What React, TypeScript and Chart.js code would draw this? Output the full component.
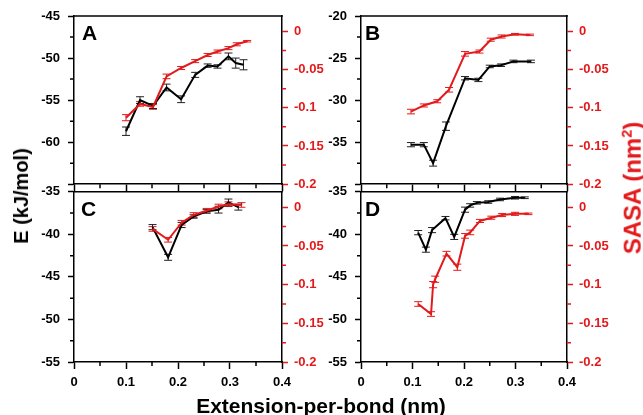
import React, { useEffect, useRef } from 'react';
import { Chart, registerables } from 'chart.js';

Chart.register(...registerables);

const FONT = '"Liberation Sans", Arial, Helvetica, sans-serif';
const RED = '#e31a1c';
const BLACK = '#000000';

// ---- tick values ----
const X_TICKS = [0, 0.1, 0.2, 0.3, 0.4];
const X_MINOR = [0.05, 0.15, 0.25, 0.35];
const SASA_TICKS = [-0.2, -0.15, -0.1, -0.05, 0];
const SASA_MINOR = [-0.175, -0.125, -0.075, -0.025];
const A_E_TICKS = [-65, -60, -55, -50, -45];
const B_E_TICKS = [-40, -35, -30, -25, -20];
const CD_E_TICKS = [-55, -50, -45, -40, -35];

// ---- Panel A ----
const A_X = [0.1, 0.127, 0.152, 0.178, 0.206, 0.233, 0.257, 0.276, 0.297, 0.311, 0.326];
const A_E = [-58.7, -55.0, -55.7, -53.5, -54.9, -52.0, -50.9, -51.0, -49.8, -50.6, -50.8];
const A_E_ERR = [0.5, 0.4, 0.3, 0.4, 0.4, 0.3, 0.2, 0.2, 0.4, 0.6, 0.6];
const A_SX = [0.1, 0.127, 0.152, 0.178, 0.206, 0.233, 0.257, 0.276, 0.297, 0.313, 0.333];
const A_S = [-0.113, -0.095, -0.099, -0.059, -0.048, -0.039, -0.031, -0.0265, -0.022, -0.017, -0.013];
const A_S_ERR = [0.004, 0.003, 0.003, 0.003, 0.002, 0.002, 0.002, 0.002, 0.002, 0.002, 0.001];

// ---- Panel B ----
const B_X = [0.097, 0.122, 0.14, 0.165, 0.202, 0.228, 0.25, 0.272, 0.296, 0.33];
const B_E = [-35.3, -35.3, -37.5, -33.1, -27.4, -27.6, -26.0, -25.85, -25.4, -25.4];
const B_E_ERR = [0.25, 0.25, 0.35, 0.5, 0.2, 0.2, 0.15, 0.15, 0.15, 0.15];
const B_SX = [0.097, 0.122, 0.148, 0.171, 0.202, 0.23, 0.252, 0.273, 0.299, 0.328];
const B_S = [-0.105, -0.097, -0.0915, -0.0765, -0.0295, -0.0265, -0.011, -0.0068, -0.0038, -0.0047];
const B_S_ERR = [0.003, 0.002, 0.002, 0.003, 0.003, 0.002, 0.002, 0.002, 0.001, 0.001];

// ---- Panel C ----
const C_X = [0.151, 0.181, 0.207, 0.23, 0.255, 0.278, 0.297, 0.316];
const C_E = [-39.15, -42.7, -38.9, -37.9, -37.3, -37.1, -36.25, -36.8];
const C_E_ERR = [0.3, 0.35, 0.3, 0.2, 0.2, 0.4, 0.4, 0.35];
const C_SX = [0.151, 0.181, 0.207, 0.23, 0.255, 0.278, 0.297, 0.322];
const C_S = [-0.028, -0.042, -0.02, -0.01, -0.0045, 0.001, 0.004, 0.003];
const C_S_ERR = [0.003, 0.003, 0.003, 0.003, 0.003, 0.003, 0.003, 0.003];

// ---- Panel D ----
const D_X = [0.111, 0.126, 0.138, 0.164, 0.181, 0.202, 0.212, 0.225, 0.247, 0.27, 0.299, 0.318];
const D_E = [-39.8, -41.8, -39.5, -38.1, -40.3, -37.1, -36.6, -36.3, -36.2, -35.9, -35.7, -35.7];
const D_E_ERR = [0.25, 0.3, 0.3, 0.2, 0.3, 0.3, 0.2, 0.15, 0.15, 0.15, 0.15, 0.1];
const D_SX = [0.111, 0.136, 0.14, 0.144, 0.166, 0.187, 0.202, 0.212, 0.231, 0.253, 0.274, 0.299, 0.325];
const D_S = [-0.125, -0.138, -0.1, -0.093, -0.06, -0.0775, -0.037, -0.0325, -0.0177, -0.0135, -0.01, -0.0085, -0.0085];
const D_S_ERR = [0.003, 0.003, 0.004, 0.004, 0.003, 0.004, 0.003, 0.003, 0.002, 0.002, 0.002, 0.002, 0.001];

type Box = { left: number; top: number; width: number; height: number; padTop: number; leftW: number; rightW: number; bottomH: number };
type Panel = {
  letter: string; letterDx: number;
  eX: number[]; e: number[]; eErr: number[];
  sX: number[]; s: number[]; sErr: number[];
  eTicks: number[]; hideE: number | null; showX: boolean; box: Box;
};

const PANELS: Panel[] = [
  { letter: 'A', letterDx: 8, eX: A_X, e: A_E, eErr: A_E_ERR, sX: A_SX, s: A_S, sErr: A_S_ERR, eTicks: A_E_TICKS, hideE: -65, showX: false,
    box: { left: 0, top: 0, width: 330, height: 200, padTop: 16, leftW: 74, rightW: 48, bottomH: 12 } },
  { letter: 'B', letterDx: 4, eX: B_X, e: B_E, eErr: B_E_ERR, sX: B_SX, s: B_S, sErr: B_S_ERR, eTicks: B_E_TICKS, hideE: -40, showX: false,
    box: { left: 300, top: 0, width: 343, height: 200, padTop: 16, leftW: 61, rightW: 76, bottomH: 12 } },
  { letter: 'C', letterDx: 7, eX: C_X, e: C_E, eErr: C_E_ERR, sX: C_SX, s: C_S, sErr: C_S_ERR, eTicks: CD_E_TICKS, hideE: null, showX: true,
    box: { left: 0, top: 176, width: 330, height: 239, padTop: 12, leftW: 74, rightW: 48, bottomH: 53 } },
  { letter: 'D', letterDx: 4, eX: D_X, e: D_E, eErr: D_E_ERR, sX: D_SX, s: D_S, sErr: D_S_ERR, eTicks: CD_E_TICKS, hideE: null, showX: true,
    box: { left: 300, top: 176, width: 343, height: 239, padTop: 12, leftW: 61, rightW: 76, bottomH: 53 } },
];

const fmt = (v: number) => String(Number(v.toFixed(3)));

const decorPlugin = {
  id: 'decor',
  beforeDatasetsDraw(chart: any) {
    const { ctx, scales } = chart;
    ctx.save();
    chart.data.datasets.forEach((ds: any) => {
      const ys = scales[ds.yAxisID];
      const errs: number[] = ds.errors || [];
      ctx.strokeStyle = ds.errColor;
      ctx.lineWidth = 1;
      ds.data.forEach((p: any, j: number) => {
        const err = errs[j] || 0;
        const px = scales.x.getPixelForValue(p.x);
        const y1 = ys.getPixelForValue(p.y + err);
        const y2 = ys.getPixelForValue(p.y - err);
        ctx.beginPath();
        ctx.moveTo(px, y1); ctx.lineTo(px, y2);
        ctx.moveTo(px - 4, y1); ctx.lineTo(px + 4, y1);
        ctx.moveTo(px - 4, y2); ctx.lineTo(px + 4, y2);
        ctx.stroke();
      });
    });
    ctx.restore();
  },
  afterDraw(chart: any, _args: any, opts: any) {
    const { ctx, chartArea: ca, scales } = chart;
    ctx.save();
    ctx.lineWidth = 1.5;
    // top frame
    ctx.strokeStyle = BLACK;
    ctx.beginPath();
    ctx.moveTo(ca.left - 0.75, ca.top); ctx.lineTo(ca.right + 0.75, ca.top);
    ctx.stroke();
    // minor ticks
    ctx.beginPath();
    X_MINOR.forEach((v) => {
      const px = scales.x.getPixelForValue(v);
      ctx.moveTo(px, ca.bottom); ctx.lineTo(px, ca.bottom + 4);
    });
    (opts.eMinor as number[]).forEach((v) => {
      const py = scales.y.getPixelForValue(v);
      ctx.moveTo(ca.left - 4, py); ctx.lineTo(ca.left, py);
    });
    ctx.stroke();
    ctx.strokeStyle = RED;
    ctx.beginPath();
    SASA_MINOR.forEach((v) => {
      const py = scales.y2.getPixelForValue(v);
      ctx.moveTo(ca.right, py); ctx.lineTo(ca.right + 4, py);
    });
    ctx.stroke();
    // panel letter
    ctx.fillStyle = BLACK;
    ctx.font = `bold 21px ${FONT}`;
    ctx.textBaseline = 'alphabetic';
    ctx.textAlign = 'left';
    ctx.fillText(opts.letter, ca.left + opts.letterDx, ca.top + 24);
    ctx.restore();
  },
};

function buildConfig(p: Panel): any {
  const eData = p.eX.map((x, i) => ({ x, y: p.e[i] }));
  const sData = p.sX.map((x, i) => ({ x, y: p.s[i] }));
  const eMinor = p.eTicks.slice(0, -1).map((v, i) => (v + p.eTicks[i + 1]) / 2);
  const tickFont = { size: 13, weight: 'bold', family: FONT };
  return {
    type: 'line',
    data: {
      datasets: [
        { data: sData, yAxisID: 'y2', borderColor: RED, borderWidth: 2, pointRadius: 0, tension: 0, errors: p.sErr, errColor: RED },
        { data: eData, yAxisID: 'y', borderColor: BLACK, borderWidth: 2, pointRadius: 0, tension: 0, errors: p.eErr, errColor: '#222' },
      ],
    },
    plugins: [decorPlugin],
    options: {
      animation: false,
      responsive: false,
      devicePixelRatio: 1,
      layout: { padding: { top: p.box.padTop, left: 0, right: 0, bottom: 0 }, autoPadding: false },
      plugins: {
        legend: { display: false },
        tooltip: { enabled: false },
        decor: { letter: p.letter, letterDx: p.letterDx, eMinor },
      },
      scales: {
        x: {
          type: 'linear', position: 'bottom', min: 0, max: 0.4, bounds: 'data',
          afterBuildTicks: (s: any) => { s.ticks = X_TICKS.map((v) => ({ value: v })); },
          afterFit: (s: any) => { s.height = p.box.bottomH; },
          ticks: { callback: (v: number) => (p.showX ? fmt(v) : ''), font: tickFont, color: BLACK, padding: 6, maxRotation: 0, autoSkip: false },
          grid: { drawOnChartArea: false, drawTicks: true, tickLength: 7, tickWidth: 1.5, tickColor: BLACK, color: BLACK },
          border: { display: true, color: BLACK, width: 1.5 },
        },
        y: {
          type: 'linear', position: 'left', min: p.eTicks[0], max: p.eTicks[p.eTicks.length - 1], bounds: 'data',
          afterBuildTicks: (s: any) => { s.ticks = p.eTicks.map((v) => ({ value: v })); },
          afterFit: (s: any) => { s.width = p.box.leftW; },
          ticks: { callback: (v: number) => (v === p.hideE ? '' : fmt(v)), font: tickFont, color: BLACK, padding: 8, autoSkip: false },
          grid: { drawOnChartArea: false, drawTicks: true, tickLength: 6, tickWidth: 1.5, tickColor: BLACK, color: BLACK },
          border: { display: true, color: BLACK, width: 1.5 },
        },
        y2: {
          type: 'linear', position: 'right', min: -0.2, max: 0.02, bounds: 'data',
          afterBuildTicks: (s: any) => { s.ticks = SASA_TICKS.map((v) => ({ value: v })); s.min = -0.2; s.max = 0.02; },
          afterFit: (s: any) => { s.width = p.box.rightW; },
          ticks: { callback: (v: number) => fmt(v), font: tickFont, color: RED, padding: 6, autoSkip: false },
          grid: { drawOnChartArea: false, drawTicks: true, tickLength: 6, tickWidth: 1.5, tickColor: RED, color: RED },
          border: { display: true, color: BLACK, width: 1.5 },
        },
      },
    },
  };
}

function PanelChart({ panel }: { panel: Panel }) {
  const ref = useRef<HTMLCanvasElement>(null);
  useEffect(() => {
    if (!ref.current) return;
    const chart = new Chart(ref.current, buildConfig(panel));
    return () => chart.destroy();
  }, [panel]);
  const b = panel.box;
  return (
    <canvas
      ref={ref}
      width={b.width}
      height={b.height}
      style={{ position: 'absolute', left: b.left, top: b.top, width: b.width, height: b.height }}
    />
  );
}

const titleBase: React.CSSProperties = {
  position: 'absolute',
  fontFamily: FONT,
  fontWeight: 'bold',
  fontSize: 20,
  lineHeight: 1,
  whiteSpace: 'nowrap',
};

export default function App() {
  return (
    <div style={{ position: 'absolute', left: 0, top: 0, width: 643, height: 415, background: '#ffffff', overflow: 'hidden' }}>
      {PANELS.map((p) => (
        <PanelChart key={p.letter} panel={p} />
      ))}
      <div style={{ ...titleBase, left: 21, top: 196, color: BLACK, transform: 'translate(-50%,-50%) rotate(-90deg)' }}>
        E (kJ/mol)
      </div>
      <div style={{ ...titleBase, left: 632, top: 188, color: RED, fontSize: 24, transform: 'translate(-50%,-50%) rotate(-90deg)' }}>
        SASA (nm<span style={{ fontSize: '0.6em', verticalAlign: '0.6em' }}>2</span>)
      </div>
      <div style={{ ...titleBase, left: 321, top: 405, color: BLACK, fontSize: 21, transform: 'translate(-50%,-50%)' }}>
        Extension-per-bond (nm)
      </div>
    </div>
  );
}
